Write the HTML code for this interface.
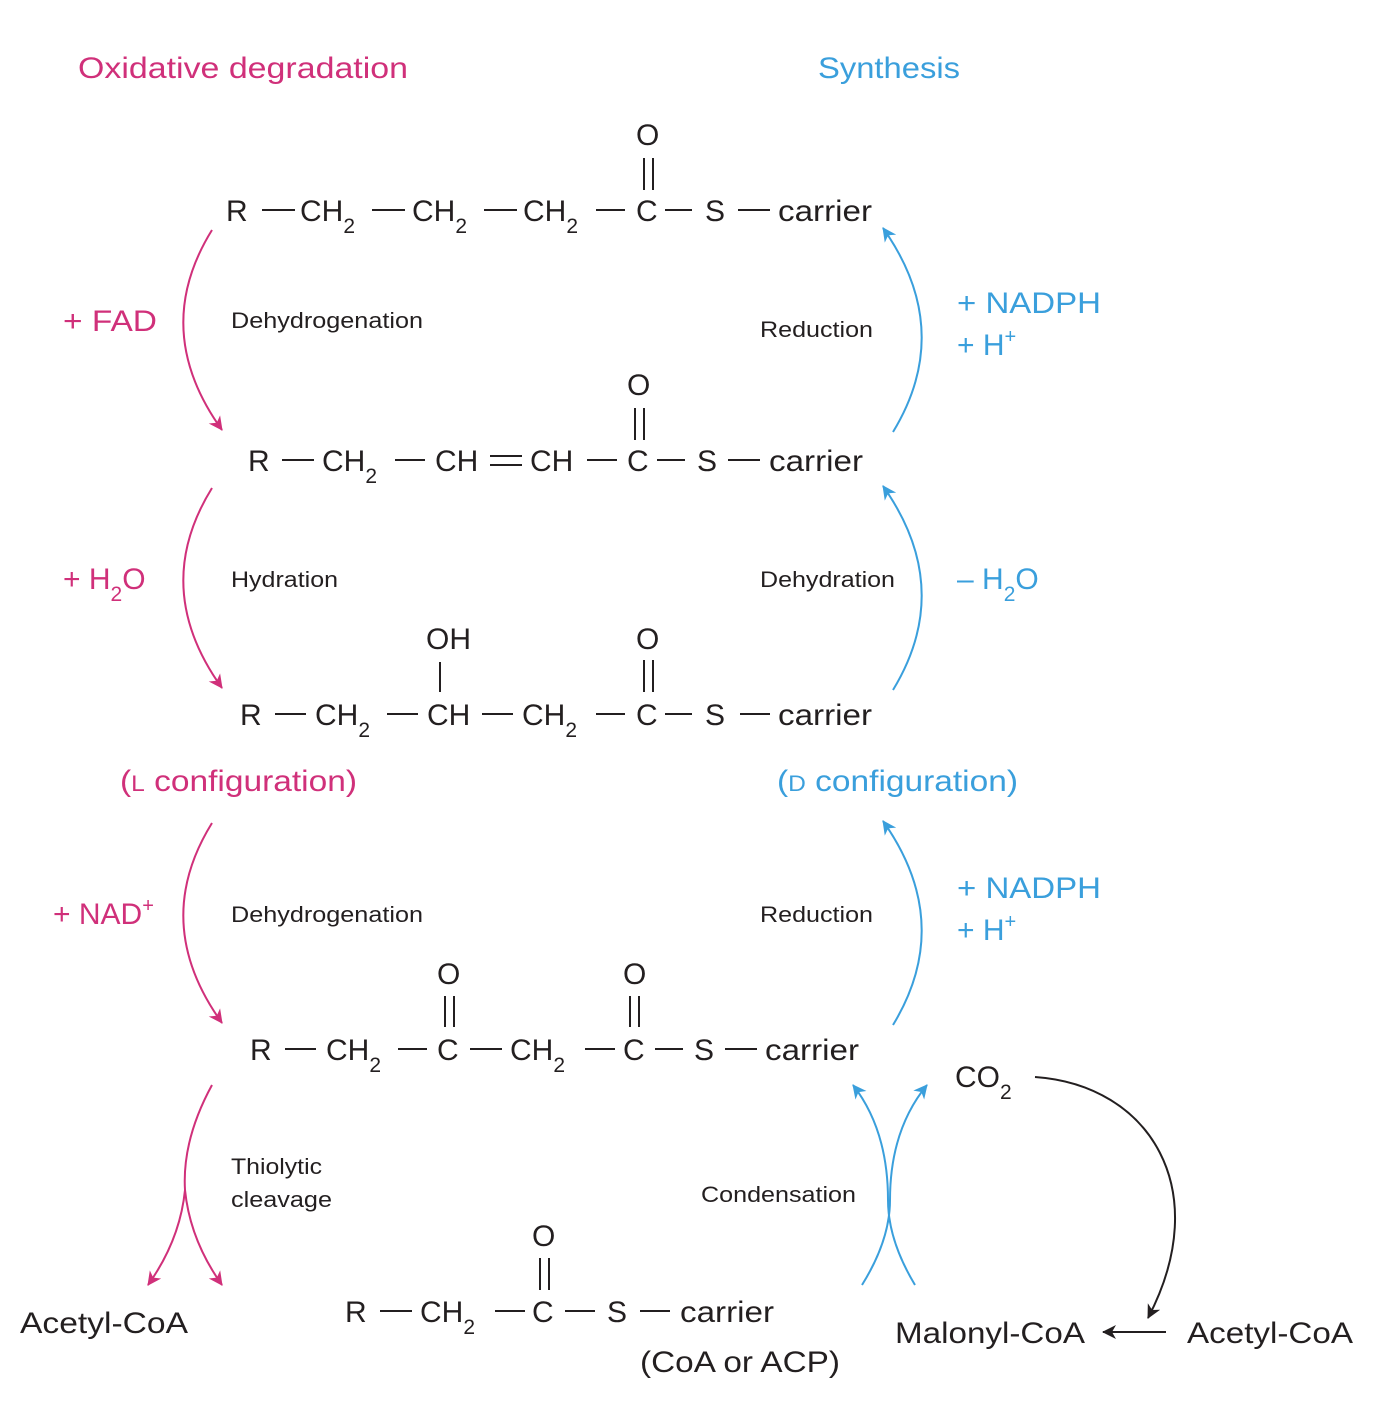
<!DOCTYPE html>
<html><head><meta charset="utf-8"><style>
html,body{margin:0;padding:0;background:#fff}
svg{display:block}
text{font-family:"Liberation Sans",sans-serif;}
.f{font-size:30px;fill:#231f20}
.l{font-size:22px;fill:#231f20}
.m{fill:#d0307a}
.b{fill:#3a9fdc}
</style></head><body>
<svg width="1381" height="1409" viewBox="0 0 1381 1409" xmlns="http://www.w3.org/2000/svg">
<defs>
<marker id="am" markerWidth="16" markerHeight="16" refX="13" refY="7" orient="auto" markerUnits="userSpaceOnUse"><path d="M0,0 L14,7 L0,14 L4,7 z" fill="#d0307a"/></marker>
<marker id="ab" markerWidth="16" markerHeight="16" refX="13" refY="7" orient="auto" markerUnits="userSpaceOnUse"><path d="M0,0 L14,7 L0,14 L4,7 z" fill="#3a9fdc"/></marker>
<marker id="ak" markerWidth="16" markerHeight="16" refX="13" refY="7" orient="auto" markerUnits="userSpaceOnUse"><path d="M0,0 L14,7 L0,14 L4,7 z" fill="#231f20"/></marker>
</defs>
<g stroke="#231f20" stroke-width="2">
<line x1="262" y1="210" x2="295" y2="210"/><line x1="372" y1="210" x2="405" y2="210"/><line x1="484" y1="210" x2="517" y2="210"/><line x1="596" y1="210" x2="625" y2="210"/><line x1="665" y1="210" x2="692" y2="210"/><line x1="738" y1="210" x2="770" y2="210"/>
<line x1="644" y1="158" x2="644" y2="190"/><line x1="653" y1="158" x2="653" y2="190"/>
<line x1="282" y1="460" x2="314" y2="460"/><line x1="395" y1="460" x2="425" y2="460"/><line x1="490" y1="456" x2="522" y2="456"/><line x1="490" y1="465" x2="522" y2="465"/><line x1="587" y1="460" x2="617" y2="460"/><line x1="657" y1="460" x2="685" y2="460"/><line x1="728" y1="460" x2="760" y2="460"/>
<line x1="635" y1="408" x2="635" y2="440"/><line x1="644" y1="408" x2="644" y2="440"/>
<line x1="275" y1="714" x2="306" y2="714"/><line x1="387" y1="714" x2="418" y2="714"/><line x1="482" y1="714" x2="513" y2="714"/><line x1="596" y1="714" x2="625" y2="714"/><line x1="665" y1="714" x2="692" y2="714"/><line x1="740" y1="714" x2="770" y2="714"/>
<line x1="440" y1="662" x2="440" y2="692"/><line x1="644" y1="660" x2="644" y2="692"/><line x1="653" y1="660" x2="653" y2="692"/>
<line x1="285" y1="1049" x2="316" y2="1049"/><line x1="398" y1="1049" x2="427" y2="1049"/><line x1="470" y1="1049" x2="502" y2="1049"/><line x1="585" y1="1049" x2="615" y2="1049"/><line x1="655" y1="1049" x2="683" y2="1049"/><line x1="725" y1="1049" x2="757" y2="1049"/>
<line x1="445" y1="996" x2="445" y2="1027"/><line x1="454" y1="996" x2="454" y2="1027"/><line x1="630" y1="996" x2="630" y2="1027"/><line x1="639" y1="996" x2="639" y2="1027"/>
<line x1="380" y1="1311" x2="412" y2="1311"/><line x1="495" y1="1311" x2="525" y2="1311"/><line x1="565" y1="1311" x2="595" y2="1311"/><line x1="640" y1="1311" x2="670" y2="1311"/>
<line x1="540" y1="1258" x2="540" y2="1290"/><line x1="549" y1="1258" x2="549" y2="1290"/>
</g>
<text class="f" x="226" y="221">R</text><text class="f" x="300" y="221">CH<tspan font-size="21" dy="12">2</tspan></text><text class="f" x="412" y="221">CH<tspan font-size="21" dy="12">2</tspan></text><text class="f" x="523" y="221">CH<tspan font-size="21" dy="12">2</tspan></text><text class="f" x="636" y="221">C</text><text class="f" x="705" y="221">S</text><text class="f" x="778" y="221" textLength="94" lengthAdjust="spacingAndGlyphs">carrier</text><text class="f" x="636" y="145">O</text>
<text class="f" x="248" y="471">R</text><text class="f" x="322" y="471">CH<tspan font-size="21" dy="12">2</tspan></text><text class="f" x="435" y="471">CH</text><text class="f" x="530" y="471">CH</text><text class="f" x="627" y="471">C</text><text class="f" x="697" y="471">S</text><text class="f" x="769" y="471" textLength="94" lengthAdjust="spacingAndGlyphs">carrier</text><text class="f" x="627" y="395">O</text>
<text class="f" x="240" y="725">R</text><text class="f" x="315" y="725">CH<tspan font-size="21" dy="12">2</tspan></text><text class="f" x="427" y="725">CH</text><text class="f" x="522" y="725">CH<tspan font-size="21" dy="12">2</tspan></text><text class="f" x="636" y="725">C</text><text class="f" x="705" y="725">S</text><text class="f" x="778" y="725" textLength="94" lengthAdjust="spacingAndGlyphs">carrier</text><text class="f" x="426" y="649">OH</text><text class="f" x="636" y="649">O</text>
<text class="f" x="250" y="1060">R</text><text class="f" x="326" y="1060">CH<tspan font-size="21" dy="12">2</tspan></text><text class="f" x="437" y="1060">C</text><text class="f" x="510" y="1060">CH<tspan font-size="21" dy="12">2</tspan></text><text class="f" x="623" y="1060">C</text><text class="f" x="694" y="1060">S</text><text class="f" x="765" y="1060" textLength="94" lengthAdjust="spacingAndGlyphs">carrier</text><text class="f" x="437" y="984">O</text><text class="f" x="623" y="984">O</text>
<text class="f" x="345" y="1322">R</text><text class="f" x="420" y="1322">CH<tspan font-size="21" dy="12">2</tspan></text><text class="f" x="532" y="1322">C</text><text class="f" x="607" y="1322">S</text><text class="f" x="680" y="1322" textLength="94" lengthAdjust="spacingAndGlyphs">carrier</text><text class="f" x="532" y="1246">O</text>
<text class="f" x="640" y="1372" textLength="200" lengthAdjust="spacingAndGlyphs">(CoA or ACP)</text>
<text class="f m" x="78" y="78" textLength="330" lengthAdjust="spacingAndGlyphs">Oxidative degradation</text>
<text class="f b" x="818" y="78" textLength="142" lengthAdjust="spacingAndGlyphs">Synthesis</text>
<text class="f m" x="63" y="331" textLength="94" lengthAdjust="spacingAndGlyphs">+ FAD</text>
<text class="l" x="231" y="328" textLength="192" lengthAdjust="spacingAndGlyphs">Dehydrogenation</text>
<text class="l" x="760" y="337" textLength="113" lengthAdjust="spacingAndGlyphs">Reduction</text>
<text class="f b" x="957" y="313" textLength="144" lengthAdjust="spacingAndGlyphs">+ NADPH</text>
<text class="f b" x="957" y="355">+ H<tspan font-size="20" dy="-12">+</tspan></text>
<text class="f m" x="63" y="589">+ H<tspan font-size="21" dy="12">2</tspan><tspan dy="-12">O</tspan></text>
<text class="l" x="231" y="587" textLength="107" lengthAdjust="spacingAndGlyphs">Hydration</text>
<text class="l" x="760" y="587" textLength="135" lengthAdjust="spacingAndGlyphs">Dehydration</text>
<text class="f b" x="957" y="589">– H<tspan font-size="21" dy="12">2</tspan><tspan dy="-12">O</tspan></text>
<text class="f m" x="120" y="791" textLength="237" lengthAdjust="spacingAndGlyphs">(<tspan font-size="22">L</tspan> configuration)</text>
<text class="f b" x="777" y="791" textLength="241" lengthAdjust="spacingAndGlyphs">(<tspan font-size="22">D</tspan> configuration)</text>
<text class="f m" x="53" y="924">+ NAD<tspan font-size="20" dy="-12">+</tspan></text>
<text class="l" x="231" y="922" textLength="192" lengthAdjust="spacingAndGlyphs">Dehydrogenation</text>
<text class="l" x="760" y="922" textLength="113" lengthAdjust="spacingAndGlyphs">Reduction</text>
<text class="f b" x="957" y="898" textLength="144" lengthAdjust="spacingAndGlyphs">+ NADPH</text>
<text class="f b" x="957" y="940">+ H<tspan font-size="20" dy="-12">+</tspan></text>
<text class="f" x="955" y="1087">CO<tspan font-size="21" dy="12">2</tspan></text>
<text class="l" x="231" y="1174" textLength="91" lengthAdjust="spacingAndGlyphs">Thiolytic</text>
<text class="l" x="231" y="1207" textLength="101" lengthAdjust="spacingAndGlyphs">cleavage</text>
<text class="l" x="701" y="1202" textLength="155" lengthAdjust="spacingAndGlyphs">Condensation</text>
<text class="f" x="20" y="1333" textLength="168" lengthAdjust="spacingAndGlyphs">Acetyl-CoA</text>
<text class="f" x="895" y="1343" textLength="190" lengthAdjust="spacingAndGlyphs">Malonyl-CoA</text>
<text class="f" x="1187" y="1343" textLength="166" lengthAdjust="spacingAndGlyphs">Acetyl-CoA</text>
<g fill="none" stroke-width="2">
<path d="M212,230 Q150,330 222,430" stroke="#d0307a" marker-end="url(#am)"/>
<path d="M212,488 Q150,588 222,688" stroke="#d0307a" marker-end="url(#am)"/>
<path d="M212,823 Q150,923 222,1023" stroke="#d0307a" marker-end="url(#am)"/>
<path d="M212,1085 Q182,1140 185,1190 Q180,1240 148,1285" stroke="#d0307a" marker-end="url(#am)"/>
<path d="M185,1190 Q190,1240 222,1285" stroke="#d0307a" marker-end="url(#am)"/>
<path d="M893,432 Q955,330 883,228" stroke="#3a9fdc" marker-end="url(#ab)"/>
<path d="M893,690 Q955,588 883,486" stroke="#3a9fdc" marker-end="url(#ab)"/>
<path d="M893,1025 Q955,923 883,821" stroke="#3a9fdc" marker-end="url(#ab)"/>
<path d="M862,1285 Q890,1240 890,1200 Q890,1130 927,1085" stroke="#3a9fdc" marker-end="url(#ab)"/>
<path d="M915,1285 Q888,1240 888,1200 Q888,1130 853,1085" stroke="#3a9fdc" marker-end="url(#ab)"/>
<path d="M1035,1077 C1150,1085 1215,1190 1148,1318" stroke="#231f20" marker-end="url(#ak)"/>
<line x1="1166" y1="1332" x2="1103" y2="1332" stroke="#231f20" marker-end="url(#ak)"/>
</g>
</svg>
</body></html>
